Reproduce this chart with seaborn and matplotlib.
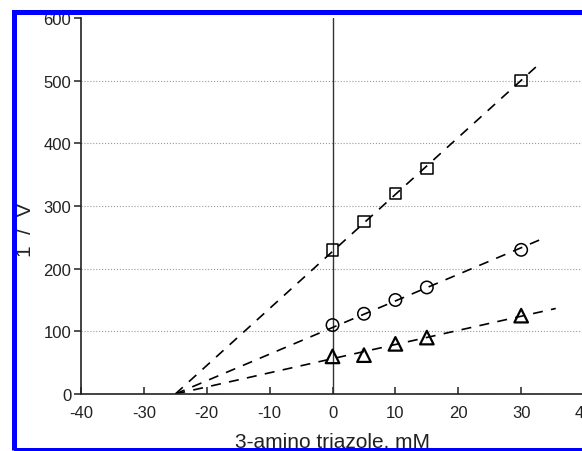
import numpy as np
import seaborn as sns
import matplotlib.pyplot as plt
from matplotlib.patches import Rectangle

# 3-amino triazole concentration, mM
conc = [0, 5, 10, 15, 30]

# 1/V for the three series
inv_v_square = [230, 275, 320, 360, 500]
inv_v_circle = [110, 128, 150, 170, 230]
inv_v_triangle = [60, 62, 80, 90, 125]

# where the dashed fit lines meet the x axis, and where they stop
x_intercept = -25
line_end = [33, 33.4, 35.5]

sns.set_style("white")
plt.rcParams["font.family"] = ["Liberation Sans", "DejaVu Sans"]
plt.rcParams["axes.unicode_minus"] = False

fig = plt.figure(figsize=(5.82, 4.52), dpi=100)
ax = fig.add_axes([0.1392, 0.1261, 0.8643, 0.832])

series = [
    (inv_v_square, "s", 70, 1.1),
    (inv_v_circle, "o", 80, 1.1),
    (inv_v_triangle, "^", 95, 1.6),
]

for (vals, marker, size, lw), xend in zip(series, line_end):
    x = np.array(conc, dtype=float)
    y = np.array(vals, dtype=float)
    # fit through the common intercept on the x axis
    slope = np.sum((x - x_intercept) * y) / np.sum((x - x_intercept) ** 2)
    xs = np.array([x_intercept, xend])
    ax.plot(xs, slope * (xs - x_intercept), color="black", lw=1.2,
            dashes=(6, 5), zorder=2)
    sns.scatterplot(x=conc, y=vals, marker=marker, s=size, facecolor="none",
                    edgecolor="black", linewidth=lw, ax=ax, zorder=3)

ax.axvline(0, color="#333333", lw=1.0, zorder=1)

ax.set_xlim(-40, 40)
ax.set_ylim(0, 600)
ax.set_xticks(range(-40, 41, 10))
ax.set_yticks(range(0, 601, 100))

ax.yaxis.grid(True, linestyle=":", color="#999999", lw=0.8)
ax.get_ygridlines()[-1].set_visible(False)
ax.set_axisbelow(True)

for side in ["top", "right"]:
    ax.spines[side].set_visible(False)
for side in ["left", "bottom"]:
    ax.spines[side].set_color("#222222")
    ax.spines[side].set_linewidth(1.2)

ax.tick_params(axis="x", direction="in", length=5, width=1.1, pad=8,
               labelsize=12, colors="#222222", bottom=True)
ax.tick_params(axis="y", direction="out", length=5, width=1.1, pad=2,
               labelsize=12, colors="#222222", left=True)

ax.set_xlabel("3-amino triazole, mM", fontsize=15, labelpad=8, color="#222222")
ax.set_ylabel("1  /  V", fontsize=15, color="#222222")
ax.yaxis.set_label_coords(-0.092, 0.44)

# blue frame drawn over everything
fig.add_artist(Rectangle((14 / 582, 1.5 / 452), 1.0, 1 - 14 / 452,
                         transform=fig.transFigure, fill=False,
                         edgecolor="#0000ff", lw=3.6, zorder=10,
                         clip_on=False))

fig.savefig("out.png", dpi=100)
